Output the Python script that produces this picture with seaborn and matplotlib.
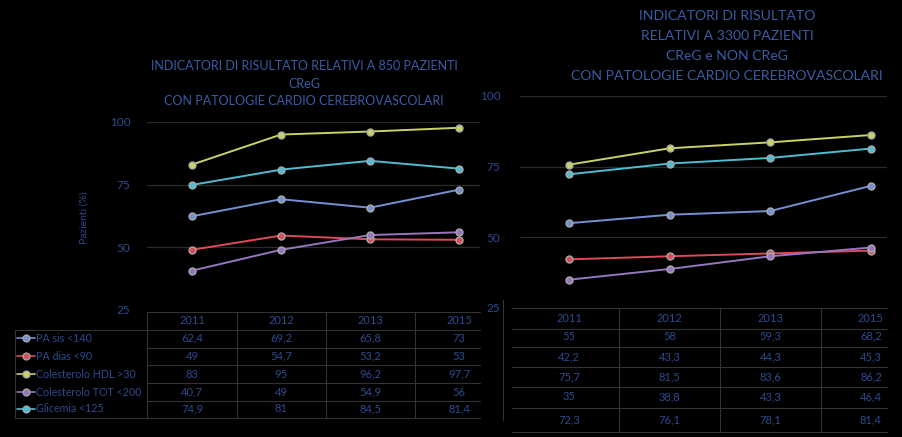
import matplotlib
matplotlib.use("Agg")
import matplotlib.pyplot as plt
import matplotlib.transforms as mtransforms
from matplotlib.lines import Line2D
import seaborn as sns
import pandas as pd

# ---- dati ----
anni = ["2011", "2012", "2013", "2015"]
indicatori = ["PA sis <140", "PA dias <90", "Colesterolo HDL >30",
              "Colesterolo TOT <200", "Glicemia <125"]

# 850 pazienti CReG
pa_sis_850 = [62.4, 69.2, 65.8, 73]
pa_dias_850 = [49, 54.7, 53.2, 53]
hdl_850 = [83, 95, 96.2, 97.7]
tot_850 = [40.7, 49, 54.9, 56]
glic_850 = [74.9, 81, 84.5, 81.4]

# 3300 pazienti CReG e NON CReG
pa_sis_3300 = [55, 58, 59.3, 68.2]
pa_dias_3300 = [42.2, 43.3, 44.3, 45.3]
hdl_3300 = [75.7, 81.5, 83.6, 86.2]
tot_3300 = [35, 38.8, 43.3, 46.4]
glic_3300 = [72.3, 76.1, 78.1, 81.4]

colori = ["#7591d2", "#dc4b57", "#c9d267", "#9677bd", "#4fbcd2"]
testo = "#2d4b8e"
griglia = "#2b2b2b"
bordo = "#333333"

sns.set_theme(style="dark", rc={
    "figure.facecolor": "black", "axes.facecolor": "black",
    "savefig.facecolor": "black", "axes.edgecolor": "black",
})
plt.rcParams["font.family"] = ["Lato", "DejaVu Sans"]

W, H = 902, 437
fig = plt.figure(figsize=(W / 100, H / 100), dpi=100)

# overlay in pixel (origine in alto a sinistra) per tabelle e titoli
ov = fig.add_axes([0, 0, 1, 1], zorder=-1)
ov.set_xlim(0, W)
ov.set_ylim(H, 0)
ov.axis("off")


def long_df(serie):
    righe = []
    for nome, vals in zip(indicatori, serie):
        for i, v in enumerate(vals):
            righe.append({"pos": i, "valore": v, "indicatore": nome})
    return pd.DataFrame(righe)


def fmt(v):
    return f"{v:g}".replace(".", ",")


def pannello(rect, serie, xlim, righe_y, header_y, linee_y, x_dx, pad):
    ax = fig.add_axes(rect)
    df = long_df(serie)
    sns.lineplot(data=df, x="pos", y="valore", hue="indicatore",
                 palette=colori, marker="o", markersize=5,
                 markeredgecolor="#a8a8a8", markeredgewidth=1.0,
                 linewidth=1.4, legend=False, ax=ax)
    ax.set_xlim(*xlim)
    ax.set_ylim(25, 100)
    ax.set_yticks([25, 50, 75, 100])
    ax.set_xticks([])
    ax.set_xlabel("")
    ax.set_ylabel("")
    ax.grid(False)
    for v in [50, 75, 100]:
        ax.axhline(v, color=griglia, lw=0.9, zorder=0)
    ax.tick_params(axis="y", colors=testo, labelsize=8.5, length=0, pad=pad)
    for s in ax.spines.values():
        s.set_visible(False)

    tr = mtransforms.blended_transform_factory(ax.transData, ov.transData)
    # intestazione anni
    for i, a in enumerate(anni):
        ov.text(i, header_y, a, transform=tr, ha="center", va="center",
                color=testo, fontsize=8, clip_on=False)
    # valori
    for r, vals in enumerate(serie):
        for i, v in enumerate(vals):
            ov.text(i, righe_y[r], fmt(v), transform=tr, ha="center",
                    va="center", color=testo, fontsize=8, clip_on=False)
    # linee tabella
    for y in linee_y:
        ov.plot([x_dx[0], x_dx[1]], [y, y], color=bordo, lw=0.8)
    for xb in [0.5, 1.5, 2.5]:
        ov.plot([xb, xb], [linee_y[0], linee_y[-1]], transform=tr,
                color=bordo, lw=0.8)
    return ax


# ---- pannello sinistro ----
ax1 = pannello([147 / W, 1 - 310 / H, (480 - 147) / W, 188 / H],
               [pa_sis_850, pa_dias_850, hdl_850, tot_850, glic_850],
               (-0.506, 3.236),
               [338, 356, 374, 392, 409], 321,
               [312, 330, 348, 365, 383, 401, 418], (147, 480), 12)
ax1.set_ylabel("Pazienti (%)", color=testo, fontsize=7.5)
ax1.yaxis.set_label_coords(-0.175, 0.49)

# legenda/etichette della tabella sinistra
for r, (nome, c) in enumerate(zip(indicatori, colori)):
    y = [338, 356, 374, 392, 409][r]
    ov.add_line(Line2D([17, 35], [y, y], color=c, lw=1.2))
    ov.plot(26, y, marker="o", ms=5, color=c, mec="#a8a8a8", mew=0.9)
    ov.text(36, y, nome, color=testo, fontsize=7.7, va="center", ha="left")
ov.plot([15, 15], [330, 418], color=bordo, lw=0.8)
ov.plot([15, 147], [330, 330], color=bordo, lw=0.8)
ov.plot([15, 147], [418, 418], color=bordo, lw=0.8)
ov.plot([147, 147], [312, 418], color=bordo, lw=0.8)

for k, riga in enumerate(["INDICATORI DI RISULTATO RELATIVI A 850 PAZIENTI",
                          "CReG",
                          "CON PATOLOGIE CARDIO CEREBROVASCOLARI"]):
    ov.text(304, 66 + 17.5 * k, riga, ha="center", va="center",
            color="#3a5ca6", fontsize=9)

# ---- pannello destro ----
ax2 = pannello([520 / W, 1 - 308 / H, (887 - 520) / W, 212 / H],
               [pa_sis_3300, pa_dias_3300, hdl_3300, tot_3300, glic_3300],
               (-0.487, 3.16),
               [336, 357, 377, 397, 420], 318,
               [308, 329, 347, 367, 387, 408, 432], (512, 887), 14)

for k, riga in enumerate(["INDICATORI DI RISULTATO",
                          "RELATIVI A 3300 PAZIENTI",
                          "CReG e NON CReG",
                          "CON PATOLOGIE CARDIO CEREBROVASCOLARI"]):
    ov.text(727, 16 + 20 * k, riga, ha="center", va="center",
            color="#3a5ca6", fontsize=10.1)

# bordo residuo a sinistra della tabella destra
ov.plot([503, 503], [300, 420], color=bordo, lw=0.8)

fig.savefig("out.png", dpi=100, facecolor="black")
